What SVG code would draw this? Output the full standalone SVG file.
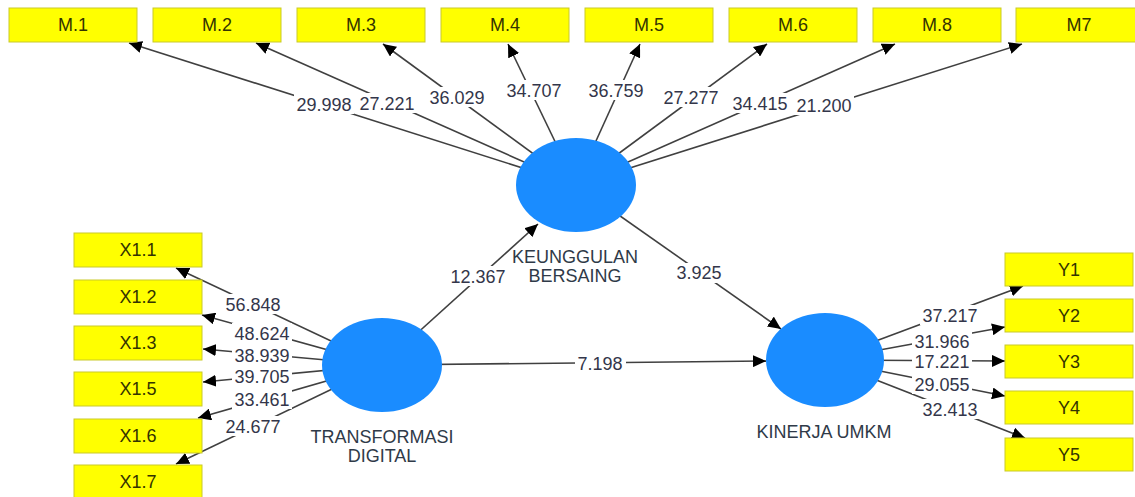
<svg xmlns="http://www.w3.org/2000/svg" width="1135" height="497" viewBox="0 0 1135 497">
<style>
  .bg{fill:#ffffff}
  .box rect{fill:#ffff00;stroke:#c9c92a;stroke-width:1}
  .box text{font-family:"Liberation Sans",Arial,sans-serif;font-size:18px;fill:#333300;text-anchor:middle}
  .lv ellipse{fill:#1a8cff}
  .lv text{font-family:"Liberation Sans",Arial,sans-serif;font-size:18px;fill:#2f3a48;text-anchor:middle}
  .conn line{stroke:#404040;stroke-width:1.6;fill:none}
  .lbl rect{fill:#ffffff}
  .lbl text{font-family:"Liberation Sans",Arial,sans-serif;font-size:18px;fill:#33364a;text-anchor:middle}
</style>
<defs>
  <marker id="arr" markerUnits="userSpaceOnUse" markerWidth="14" markerHeight="12" refX="13" refY="6" orient="auto">
    <path d="M0,0 L13,6 L0,12 z" fill="#000000"/>
  </marker>
</defs>
<rect class="bg" x="0" y="0" width="1135" height="497"/>

<g id="connectors" class="conn">
  <!-- KEUNGGULAN BERSAING to M indicators -->
  <line x1="576" y1="185" x2="129" y2="43" marker-end="url(#arr)"/>
  <line x1="576" y1="185" x2="256" y2="43" marker-end="url(#arr)"/>
  <line x1="576" y1="185" x2="383" y2="44" marker-end="url(#arr)"/>
  <line x1="576" y1="185" x2="508" y2="44" marker-end="url(#arr)"/>
  <line x1="576" y1="185" x2="640" y2="44" marker-end="url(#arr)"/>
  <line x1="576" y1="185" x2="767" y2="44" marker-end="url(#arr)"/>
  <line x1="576" y1="185" x2="895" y2="44" marker-end="url(#arr)"/>
  <line x1="576" y1="185" x2="1022" y2="44" marker-end="url(#arr)"/>
  <!-- TRANSFORMASI DIGITAL to X indicators -->
  <line x1="382" y1="365" x2="176" y2="268" marker-end="url(#arr)"/>
  <line x1="382" y1="365" x2="202" y2="315" marker-end="url(#arr)"/>
  <line x1="382" y1="365" x2="203" y2="349" marker-end="url(#arr)"/>
  <line x1="382" y1="365" x2="203" y2="382" marker-end="url(#arr)"/>
  <line x1="382" y1="365" x2="198" y2="418" marker-end="url(#arr)"/>
  <line x1="382" y1="365" x2="176" y2="464" marker-end="url(#arr)"/>
  <!-- KINERJA UMKM to Y indicators -->
  <line x1="825" y1="360" x2="1023" y2="286" marker-end="url(#arr)"/>
  <line x1="825" y1="360" x2="1005" y2="327" marker-end="url(#arr)"/>
  <line x1="825" y1="360" x2="1005" y2="361" marker-end="url(#arr)"/>
  <line x1="825" y1="360" x2="1005" y2="396" marker-end="url(#arr)"/>
  <line x1="825" y1="360" x2="1025" y2="438" marker-end="url(#arr)"/>
  <!-- structural paths -->
  <line x1="382" y1="365" x2="538" y2="224" marker-end="url(#arr)"/>
  <line x1="576" y1="185" x2="781" y2="329" marker-end="url(#arr)"/>
  <line x1="382" y1="365" x2="766" y2="361" marker-end="url(#arr)"/>
</g>

<g id="labels" class="lbl">
  <rect x="294" y="94" width="60" height="20"/><text x="324" y="110.5">29.998</text>
  <rect x="357" y="93" width="60" height="20"/><text x="387" y="109.5">27.221</text>
  <rect x="427" y="87" width="60" height="20"/><text x="457" y="103.5">36.029</text>
  <rect x="504" y="80" width="60" height="20"/><text x="534" y="96.5">34.707</text>
  <rect x="586" y="80" width="60" height="20"/><text x="616" y="96.5">36.759</text>
  <rect x="661" y="87" width="60" height="20"/><text x="691" y="103.5">27.277</text>
  <rect x="730" y="93" width="60" height="20"/><text x="760" y="109.5">34.415</text>
  <rect x="794" y="95" width="60" height="20"/><text x="824" y="111.5">21.200</text>

  <rect x="223" y="294" width="60" height="20"/><text x="253" y="310.5">56.848</text>
  <rect x="232" y="323" width="60" height="20"/><text x="262" y="339.5">48.624</text>
  <rect x="232" y="345" width="60" height="20"/><text x="262" y="361.5">38.939</text>
  <rect x="232" y="366" width="60" height="20"/><text x="262" y="382.5">39.705</text>
  <rect x="232" y="389" width="60" height="20"/><text x="262" y="405.5">33.461</text>
  <rect x="223" y="416" width="60" height="20"/><text x="253" y="432.5">24.677</text>

  <rect x="920" y="305" width="60" height="20"/><text x="950" y="321.5">37.217</text>
  <rect x="912" y="331" width="60" height="20"/><text x="942" y="347.5">31.966</text>
  <rect x="912" y="351" width="60" height="20"/><text x="942" y="367.5">17.221</text>
  <rect x="912" y="374" width="60" height="20"/><text x="942" y="390.5">29.055</text>
  <rect x="920" y="399" width="60" height="20"/><text x="950" y="415.5">32.413</text>

  <rect x="448" y="266" width="60" height="20"/><text x="478" y="282.5">12.367</text>
  <rect x="673" y="263" width="51" height="20"/><text x="699" y="279">3.925</text>
  <rect x="575" y="354" width="51" height="20"/><text x="600" y="370">7.198</text>
</g>

<g id="node-M1" class="box"><rect x="9" y="8" width="128" height="34"/><text x="73" y="31">M.1</text></g>
<g id="node-M2" class="box"><rect x="153" y="8" width="128" height="34"/><text x="217" y="31">M.2</text></g>
<g id="node-M3" class="box"><rect x="297" y="8" width="128" height="34"/><text x="361" y="31">M.3</text></g>
<g id="node-M4" class="box"><rect x="441" y="8" width="128" height="34"/><text x="505" y="31">M.4</text></g>
<g id="node-M5" class="box"><rect x="585" y="8" width="128" height="34"/><text x="649" y="31">M.5</text></g>
<g id="node-M6" class="box"><rect x="729" y="8" width="128" height="34"/><text x="793" y="31">M.6</text></g>
<g id="node-M8" class="box"><rect x="873" y="8" width="128" height="34"/><text x="937" y="31">M.8</text></g>
<g id="node-M7" class="box"><rect x="1016" y="8" width="128" height="34"/><text x="1079" y="31">M7</text></g>

<g id="node-X11" class="box"><rect x="74" y="233" width="128" height="34"/><text x="138" y="256">X1.1</text></g>
<g id="node-X12" class="box"><rect x="74" y="280" width="128" height="34"/><text x="138" y="303">X1.2</text></g>
<g id="node-X13" class="box"><rect x="74" y="326" width="128" height="34"/><text x="138" y="349">X1.3</text></g>
<g id="node-X15" class="box"><rect x="74" y="372" width="128" height="34"/><text x="138" y="395">X1.5</text></g>
<g id="node-X16" class="box"><rect x="74" y="419" width="128" height="34"/><text x="138" y="442">X1.6</text></g>
<g id="node-X17" class="box"><rect x="74" y="465" width="128" height="34"/><text x="138" y="488">X1.7</text></g>

<g id="node-Y1" class="box"><rect x="1005" y="253" width="128" height="33"/><text x="1069" y="276">Y1</text></g>
<g id="node-Y2" class="box"><rect x="1005" y="299" width="128" height="33"/><text x="1069" y="322">Y2</text></g>
<g id="node-Y3" class="box"><rect x="1005" y="345" width="128" height="33"/><text x="1069" y="368">Y3</text></g>
<g id="node-Y4" class="box"><rect x="1005" y="391" width="128" height="33"/><text x="1069" y="414">Y4</text></g>
<g id="node-Y5" class="box"><rect x="1005" y="438" width="128" height="33"/><text x="1069" y="461">Y5</text></g>

<g id="node-KB" class="lv">
  <ellipse cx="576" cy="185" rx="60" ry="47"/>
  <text x="575" y="263">KEUNGGULAN</text>
  <text x="575" y="282">BERSAING</text>
</g>
<g id="node-TD" class="lv">
  <ellipse cx="382" cy="365" rx="60" ry="47"/>
  <text x="382" y="443">TRANSFORMASI</text>
  <text x="382" y="462">DIGITAL</text>
</g>
<g id="node-KU" class="lv">
  <ellipse cx="825" cy="360" rx="59" ry="47"/>
  <text x="824" y="438">KINERJA UMKM</text>
</g>
</svg>
